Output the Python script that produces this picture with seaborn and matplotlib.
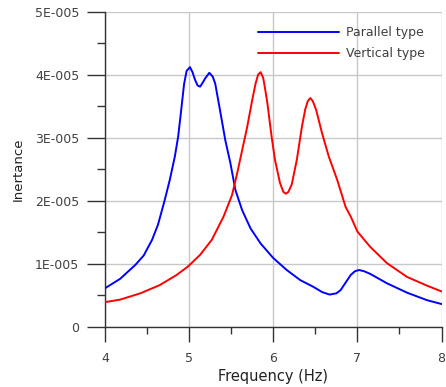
import matplotlib
matplotlib.use("Agg")
import matplotlib.pyplot as plt
import seaborn as sns
import pandas as pd
from matplotlib.ticker import MultipleLocator

# --- data (inertance in units of 1e-5) ---
par_freq = [4.00, 4.18, 4.36, 4.46, 4.56, 4.63, 4.71, 4.77, 4.83, 4.87, 4.91, 4.94,
            4.97, 5.01, 5.04, 5.07, 5.10, 5.13, 5.16, 5.19, 5.24, 5.28, 5.31, 5.36,
            5.43, 5.49, 5.55, 5.63, 5.73, 5.85, 6.00, 6.16, 6.32, 6.48, 6.58, 6.67,
            6.75, 6.80, 6.86, 6.92, 6.97, 7.02, 7.08, 7.15, 7.35, 7.59, 7.83, 8.00]
par_val = [0.61, 0.76, 0.98, 1.13, 1.38, 1.62, 2.01, 2.33, 2.70, 3.02, 3.49, 3.85,
           4.06, 4.12, 4.04, 3.92, 3.83, 3.81, 3.87, 3.94, 4.03, 3.97, 3.86, 3.49,
           2.96, 2.60, 2.17, 1.85, 1.56, 1.32, 1.09, 0.90, 0.74, 0.63, 0.55, 0.51,
           0.53, 0.58, 0.70, 0.82, 0.88, 0.90, 0.88, 0.84, 0.69, 0.54, 0.42, 0.36]
ver_freq = [4.00, 4.18, 4.42, 4.65, 4.85, 4.99, 5.13, 5.27, 5.41, 5.51, 5.57, 5.63,
            5.69, 5.75, 5.79, 5.82, 5.85, 5.88, 5.90, 5.93, 5.98, 6.02, 6.08, 6.12,
            6.15, 6.18, 6.22, 6.28, 6.34, 6.38, 6.41, 6.44, 6.47, 6.51, 6.58, 6.66,
            6.76, 6.86, 6.92, 7.00, 7.15, 7.35, 7.59, 7.83, 8.00]
ver_val = [0.39, 0.43, 0.53, 0.66, 0.82, 0.96, 1.14, 1.38, 1.75, 2.09, 2.43, 2.80,
           3.17, 3.60, 3.86, 4.00, 4.04, 3.95, 3.80, 3.55, 3.02, 2.65, 2.28, 2.14,
           2.11, 2.14, 2.26, 2.65, 3.17, 3.45, 3.58, 3.63, 3.58, 3.44, 3.07, 2.70,
           2.33, 1.90, 1.75, 1.51, 1.27, 1.01, 0.79, 0.65, 0.56]
series_names = ["Parallel type", "Vertical type"]
y_ticks = [0, 1e-5, 2e-5, 3e-5, 4e-5, 5e-5]
y_tick_labels = ["0", "1E-005", "2E-005", "3E-005", "4E-005", "5E-005"]
x_ticks = [4, 5, 6, 7, 8]

df = pd.concat([
    pd.DataFrame({"Frequency": par_freq, "Inertance": [v * 1e-5 for v in par_val],
                  "Type": series_names[0]}),
    pd.DataFrame({"Frequency": ver_freq, "Inertance": [v * 1e-5 for v in ver_val],
                  "Type": series_names[1]}),
])

sns.set_style("white")
plt.rcParams["font.family"] = ["DejaVu Sans"]

fig = plt.figure(figsize=(4.46, 3.87), dpi=100)
ax = fig.add_axes([0.2354, 0.1558, 0.7546, 0.8140])

sns.lineplot(data=df, x="Frequency", y="Inertance", hue="Type",
             palette={"Parallel type": "#0000ff", "Vertical type": "#ff0000"},
             estimator=None, sort=True, linewidth=1.4, ax=ax, zorder=3)

ax.set_xlim(4, 8)
ax.set_ylim(0, 5e-5)
ax.set_xticks(x_ticks)
ax.set_yticks(y_ticks)
ax.set_yticklabels(y_tick_labels)
ax.xaxis.set_minor_locator(MultipleLocator(0.5))
ax.yaxis.set_minor_locator(MultipleLocator(0.5e-5))

ax.grid(True, which="major", color="#c8c8c8", linewidth=1.0, zorder=0)
ax.set_axisbelow(True)
for s in ["top", "right"]:
    ax.spines[s].set_visible(False)
for s in ["left", "bottom"]:
    ax.spines[s].set_color("#333333")
    ax.spines[s].set_linewidth(1.0)

ax.tick_params(axis="y", which="major", direction="out", length=13, width=1,
               color="#333333", labelsize=9, labelcolor="#404040", pad=5.5, left=True)
ax.tick_params(axis="y", which="minor", direction="out", length=6, width=1,
               color="#333333", left=True)
ax.tick_params(axis="x", which="major", direction="out", length=11, width=1,
               color="#333333", labelsize=9, labelcolor="#404040", pad=7, bottom=True)
ax.tick_params(axis="x", which="minor", direction="out", length=5, width=1,
               color="#333333", bottom=True)

ax.set_xlabel("Frequency (Hz)", fontsize=10.5, color="#222222", labelpad=3)
ax.set_ylabel("Inertance", fontsize=9.5, color="#222222", labelpad=7)

leg = ax.legend(loc="upper left", bbox_to_anchor=(0.455, 0.953), frameon=False,
                fontsize=9, handlelength=6.5, handletextpad=0.55,
                labelspacing=0.62, borderpad=0, borderaxespad=0)
for t in leg.get_texts():
    t.set_color("#404040")

fig.savefig("out.png", dpi=100)
